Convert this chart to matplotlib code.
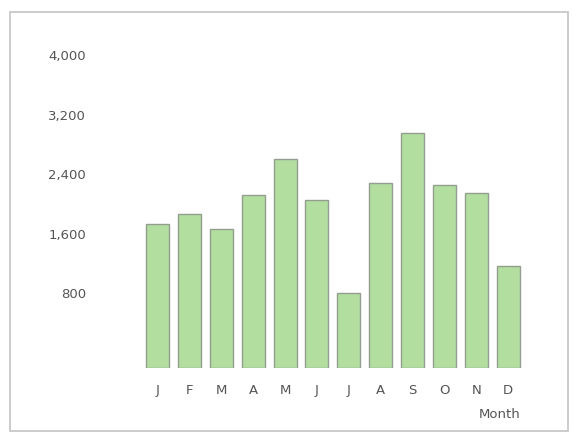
import matplotlib
matplotlib.use("Agg")
import matplotlib.pyplot as plt
from matplotlib.patches import Rectangle
import numpy as np

months = ["J", "F", "M", "A", "M", "J", "J", "A", "S", "O", "N", "D"]
values = [1730, 1870, 1670, 2120, 2600, 2050, 800, 2280, 2950, 2250, 2150, 1170]
yticks = [800, 1600, 2400, 3200, 4000]
ytick_labels = ["800", "1,600", "2,400", "3,200", "4,000"]
x_title = "Month"

Y_MIN, Y_MAX = -207, 4202
W, H = 573, 432

fig = plt.figure(figsize=(W / 100, H / 100), dpi=100)
fig.patch.set_facecolor("white")

# outer frame
fig.patches.append(Rectangle((10 / W, 1 / H), 558 / W, (420 - 1) / H,
                             transform=fig.transFigure, fill=False,
                             edgecolor="#c8c8c8", linewidth=1.3))

ax = fig.add_axes([100 / W, (H - 368.3) / H, 440 / W, (368.3 - 40) / H])
x = np.arange(len(months))
vals = np.array(values, dtype=float)
ax.bar(x, vals - Y_MIN, bottom=Y_MIN, width=0.72, color="#b2dea0",
       edgecolor="#939e8f", linewidth=1.0)

ax.set_ylim(Y_MIN, Y_MAX)
ax.set_xlim((100 - 157.7) / 31.85, (540 - 157.7) / 31.85)
ax.set_yticks(yticks)
ax.set_yticklabels(ytick_labels)
ax.set_xticks(x)
ax.set_xticklabels(months)
ax.tick_params(axis="both", length=0, labelsize=9.5, labelcolor="#555555")
ax.tick_params(axis="y", pad=10)
ax.tick_params(axis="x", pad=11)
for s in ax.spines.values():
    s.set_visible(False)

fig.text(520 / W, (H - 415) / H, x_title, ha="right", va="center",
         fontsize=9.5, color="#555555")

fig.savefig("out.png", dpi=100)
